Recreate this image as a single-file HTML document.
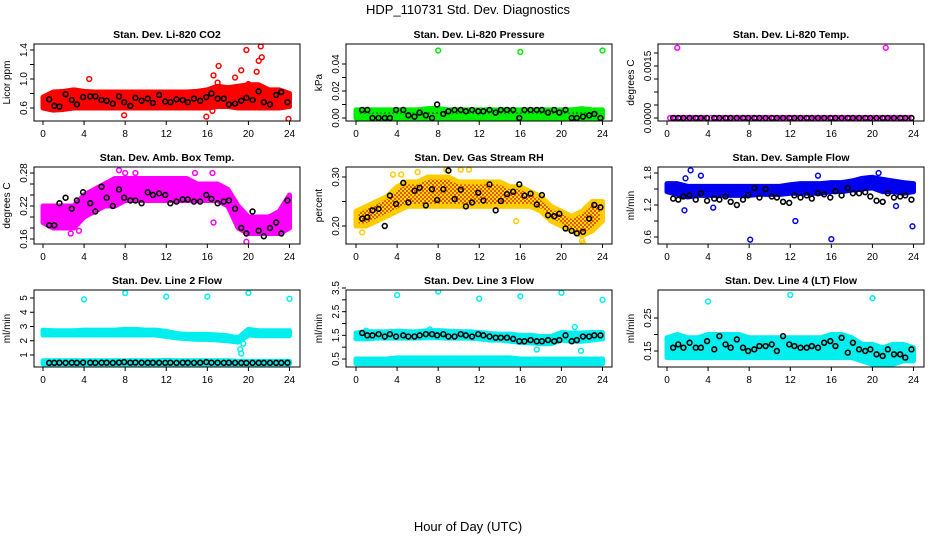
<!DOCTYPE html>
<html><head><meta charset="utf-8">
<style>
body{margin:0;background:#fff;}
svg{display:block;font-family:"Liberation Sans",sans-serif;}
</style></head>
<body>
<svg id="chart" width="936" height="540" viewBox="0 0 936 540">
<defs>
<pattern id="rhpat" width="4" height="4" patternUnits="userSpaceOnUse"><rect width="4" height="4" fill="#ffdd00"/><rect width="2" height="2" fill="#ee5500"/><rect x="2" y="2" width="2" height="2" fill="#ee5500"/></pattern>
<pattern id="prespat" width="4" height="4" patternUnits="userSpaceOnUse"><rect width="4" height="4" fill="#00ee00"/><rect width="2" height="2" fill="#119911"/></pattern>
</defs>
<text x="468" y="14" font-size="13" text-anchor="middle">HDP_110731  Std. Dev. Diagnostics</text>
<text x="468" y="531" font-size="13" text-anchor="middle">Hour of Day (UTC)</text>
</svg>
<script>
const bandHours=[0,1,2,3,4,5,6,7,8,9,10,11,12,13,14,15,16,17,18,19,20,21,22,23,24];
const blackHours=[0.6,1.1,1.6,2.2,2.8,3.3,3.9,4.6,5.1,5.7,6.2,6.8,7.4,7.9,8.5,9.0,9.6,10.2,10.7,11.3,11.9,12.4,13.0,13.6,14.1,14.7,15.3,15.9,16.4,17.0,17.6,18.1,18.7,19.3,19.8,20.4,21.0,21.5,22.1,22.7,23.2,23.8];
const xTicks=[0,4,8,12,16,20,24];

const co2Lo=[0.6,0.57,0.58,0.6,0.6,0.6,0.6,0.6,0.6,0.6,0.6,0.6,0.6,0.6,0.6,0.6,0.6,0.62,0.62,0.6,0.6,0.6,0.6,0.6,0.62];
const co2Hi=[0.75,0.82,0.83,0.85,0.83,0.82,0.82,0.82,0.82,0.82,0.82,0.82,0.82,0.82,0.82,0.83,0.85,0.9,0.88,0.9,0.92,0.92,0.85,0.85,0.8];
const co2Black=[0.72,0.63,0.62,0.79,0.71,0.65,0.75,0.76,0.76,0.71,0.70,0.66,0.76,0.68,0.63,0.74,0.70,0.73,0.67,0.78,0.69,0.68,0.72,0.71,0.68,0.73,0.70,0.75,0.80,0.73,0.73,0.65,0.66,0.70,0.74,0.71,0.83,0.68,0.65,0.78,0.82,0.68];
const co2OutT=[4.5,7.9,15.9,16.6,17.1,18.7,19.3,19.8,20.8,21.0,21.2,21.3,23.9,16.5,17.0,20.0];
const co2OutV=[1.0,0.5,0.48,1.05,1.18,1.02,1.12,1.4,1.1,1.25,1.45,1.3,0.45,0.56,0.95,0.93];

const presLo=[0,0,0,0,0,0,0,0,0,0,0,0,0,0,0,0,0,0,0,0,0,0,0,0,0];
const presHi=[0.006,0.006,0.006,0.006,0.006,0.006,0.006,0.007,0.007,0.006,0.006,0.006,0.006,0.006,0.006,0.006,0.006,0.006,0.006,0.006,0.006,0.006,0.007,0.006,0.006];
const presBlack=[0.006,0.006,0,0,0,0,0.006,0.006,0.002,0.001,0.004,0.002,0,0.01,0.003,0.005,0.006,0.006,0.005,0.006,0.005,0.005,0.006,0.004,0.006,0.006,0.006,0,0.006,0.006,0.006,0.006,0.004,0.006,0.004,0.006,0,0,0.001,0.002,0.003,0];
const presOutT=[8,16,24];
const presOutV=[0.05,0.049,0.05];

const tempBlack=[0,0,0,0,0,0,0,0,0,0,0,0,0,0,0,0,0,0,0,0,0,0,0,0,0,0,0,0,0,0,0,0,0,0,0,0,0,0,0,0,0,0];
const tempOutT=[1,21.3];
const tempOutV=[0.0027,0.0027];

const boxLo=[0.19,0.18,0.18,0.18,0.2,0.21,0.22,0.22,0.23,0.23,0.23,0.23,0.23,0.23,0.23,0.23,0.23,0.23,0.22,0.18,0.17,0.17,0.17,0.17,0.18];
const boxHi=[0.22,0.22,0.22,0.22,0.24,0.25,0.26,0.27,0.27,0.27,0.27,0.27,0.27,0.27,0.27,0.26,0.26,0.26,0.25,0.22,0.2,0.2,0.2,0.21,0.24];
const boxBlack=[0.185,0.185,0.225,0.235,0.215,0.23,0.245,0.225,0.21,0.255,0.235,0.22,0.25,0.235,0.23,0.23,0.225,0.245,0.24,0.243,0.24,0.225,0.228,0.232,0.232,0.228,0.228,0.24,0.233,0.225,0.228,0.23,0.215,0.18,0.17,0.21,0.175,0.165,0.18,0.19,0.17,0.23];
const boxOutT=[2.7,8,9,14.8,16.5,16.6,19.8,7.4,3.5];
const boxOutV=[0.17,0.28,0.28,0.28,0.28,0.19,0.155,0.285,0.175];

const rhLo=[0.2,0.2,0.21,0.22,0.23,0.24,0.24,0.24,0.24,0.24,0.24,0.24,0.24,0.24,0.24,0.24,0.24,0.24,0.23,0.21,0.2,0.19,0.18,0.19,0.21];
const rhHi=[0.23,0.24,0.25,0.26,0.28,0.29,0.29,0.3,0.3,0.3,0.29,0.29,0.29,0.29,0.29,0.28,0.28,0.27,0.26,0.24,0.23,0.22,0.23,0.25,0.25];
const rhBlack=[0.215,0.218,0.232,0.235,0.20,0.262,0.245,0.288,0.248,0.272,0.278,0.242,0.275,0.253,0.275,0.313,0.255,0.274,0.24,0.248,0.268,0.252,0.285,0.232,0.251,0.265,0.27,0.285,0.262,0.266,0.244,0.263,0.222,0.22,0.225,0.195,0.19,0.185,0.188,0.215,0.243,0.238];
const rhOutT=[0.6,3.6,4.4,6,8.8,10.2,11,15.6,22,22.1];
const rhOutV=[0.187,0.305,0.305,0.31,0.315,0.315,0.315,0.21,0.17,0.165];

const sfLo=[1.45,1.4,1.35,1.38,1.38,1.38,1.38,1.38,1.38,1.4,1.4,1.4,1.42,1.42,1.42,1.42,1.45,1.45,1.48,1.5,1.52,1.45,1.45,1.42,1.45];
const sfHi=[1.6,1.6,1.55,1.55,1.55,1.55,1.55,1.55,1.55,1.55,1.55,1.55,1.58,1.6,1.6,1.6,1.62,1.62,1.65,1.7,1.72,1.68,1.65,1.62,1.6];
const sfBlack=[1.32,1.3,1.36,1.38,1.3,1.42,1.28,1.32,1.3,1.36,1.26,1.2,1.3,1.38,1.52,1.34,1.5,1.36,1.34,1.26,1.24,1.38,1.34,1.38,1.32,1.42,1.4,1.34,1.46,1.38,1.52,1.42,1.42,1.44,1.36,1.28,1.26,1.42,1.34,1.36,1.38,1.3];
const sfOutT=[1.7,2.3,4.5,8.1,12.5,16,23.9,22.3,1.8,3.3,14.7,20.6];
const sfOutV=[1.1,1.85,1.15,0.55,0.9,0.56,0.8,1.18,1.7,1.75,1.75,1.8];

const l2LoA=[2.4,2.4,2.4,2.4,2.4,2.4,2.4,2.4,2.4,2.4,2.4,2.4,2.3,2.2,2.15,2.1,2.1,2.05,2.0,1.9,2.4,2.35,2.35,2.35,2.35];
const l2HiA=[2.75,2.7,2.7,2.7,2.75,2.75,2.75,2.75,2.8,2.8,2.75,2.75,2.65,2.5,2.45,2.45,2.45,2.4,2.35,2.2,2.8,2.7,2.7,2.7,2.7];
const l2LoB=[0.38,0.38,0.38,0.38,0.38,0.38,0.38,0.38,0.38,0.38,0.38,0.38,0.38,0.38,0.38,0.38,0.38,0.38,0.38,0.38,0.38,0.38,0.38,0.38,0.38];
const l2HiB=[0.6,0.6,0.6,0.6,0.6,0.6,0.6,0.6,0.6,0.6,0.6,0.6,0.62,0.6,0.6,0.6,0.6,0.6,0.6,0.55,0.55,0.55,0.55,0.55,0.55];
const l2Black=[0.45,0.45,0.46,0.45,0.46,0.45,0.47,0.46,0.45,0.46,0.46,0.45,0.47,0.5,0.46,0.47,0.46,0.46,0.46,0.46,0.45,0.46,0.45,0.46,0.46,0.45,0.46,0.5,0.46,0.46,0.45,0.46,0.45,0.45,0.44,0.45,0.45,0.45,0.45,0.45,0.45,0.46];
const l2OutT=[4,8,12,16,20,24,19.3,19.2,19.5];
const l2OutV=[4.9,5.35,5.1,5.1,5.35,4.95,1.1,1.4,1.8];

const l3LoA=[1.35,1.35,1.38,1.38,1.38,1.38,1.38,1.4,1.4,1.38,1.38,1.38,1.35,1.3,1.3,1.25,1.2,1.18,1.15,1.15,1.3,1.25,1.25,1.3,1.35];
const l3HiA=[1.6,1.65,1.65,1.65,1.68,1.65,1.65,1.7,1.7,1.68,1.65,1.65,1.62,1.58,1.55,1.55,1.5,1.5,1.45,1.45,1.62,1.6,1.6,1.62,1.62];
const l3LoB=[0.3,0.3,0.3,0.3,0.3,0.3,0.3,0.3,0.3,0.3,0.3,0.3,0.3,0.3,0.3,0.3,0.3,0.3,0.3,0.3,0.3,0.3,0.3,0.3,0.3];
const l3HiB=[0.5,0.5,0.5,0.5,0.55,0.55,0.55,0.55,0.55,0.55,0.55,0.55,0.55,0.55,0.55,0.55,0.5,0.5,0.5,0.5,0.5,0.5,0.5,0.5,0.5];
const l3Black=[1.6,1.5,1.5,1.55,1.45,1.55,1.45,1.5,1.45,1.45,1.5,1.55,1.55,1.5,1.55,1.45,1.45,1.55,1.5,1.45,1.55,1.5,1.45,1.4,1.4,1.4,1.35,1.25,1.25,1.3,1.25,1.25,1.3,1.25,1.3,1.5,1.25,1.3,1.45,1.45,1.5,1.5];
const l3OutT=[4,8,12,16,20,24,17.6,21.9,21.3,1,7.2];
const l3OutV=[3.2,3.35,3.05,3.15,3.3,3.0,0.9,0.85,1.85,1.7,1.75];

const l4Lo=[0.13,0.13,0.13,0.13,0.13,0.13,0.13,0.13,0.13,0.13,0.13,0.13,0.13,0.13,0.13,0.13,0.13,0.13,0.13,0.12,0.11,0.11,0.11,0.12,0.12];
const l4Hi=[0.19,0.2,0.19,0.19,0.2,0.2,0.2,0.2,0.19,0.19,0.19,0.19,0.19,0.19,0.19,0.19,0.2,0.2,0.19,0.17,0.17,0.16,0.17,0.17,0.16];
const l4Black=[0.16,0.17,0.16,0.175,0.16,0.16,0.18,0.155,0.195,0.17,0.16,0.185,0.16,0.15,0.155,0.165,0.165,0.17,0.15,0.195,0.17,0.165,0.16,0.16,0.165,0.16,0.175,0.18,0.165,0.19,0.145,0.175,0.155,0.15,0.155,0.14,0.135,0.155,0.14,0.14,0.13,0.155];
const l4OutT=[4,12,20];
const l4OutV=[0.3,0.32,0.31];

const S='http://www.w3.org/2000/svg';
const svg=document.getElementById('chart');
const colLeft=[34,346,658], colX0=[43,356,667];
function mk(tag,attrs,parent){const e=document.createElementNS(S,tag);for(const k in attrs)e.setAttribute(k,attrs[k]);(parent||svg).appendChild(e);return e;}

function panel(o){
  const g=mk('g',{});
  
  
  const L=colLeft[o.c], R=L+266, T=44+123*o.r, B=T+77;
  const xs=t=>colX0[o.c]+t*(246.5/24);
  const ys=v=>o.y0px+(v-o.y0)*(o.y1px-o.y0px)/(o.y1-o.y0);
  const clip='clip'+o.name;
  const cp=mk('clipPath',{id:clip},g); mk('rect',{x:L,y:T,width:R-L,height:B-T},cp);
  const pg=mk('g',{'clip-path':'url(#'+clip+')'},g);
  o.bands.forEach(([lo,hi])=>{
    let pts=bandHours.map((h,i)=>xs(h)+','+ys(hi[i]));
    pts=pts.concat(bandHours.slice().reverse().map((h,j)=>{const i=bandHours.length-1-j;return xs(h)+','+ys(lo[i]);}));
    const p=mk('polygon',{points:pts.join(' '),fill:o.fill||o.color,stroke:o.color,'stroke-width':5,'stroke-linejoin':'round'},pg);
    
    
  });
  o.outT.forEach((t,i)=>{
    const c=mk('circle',{cx:xs(t),cy:ys(o.outV[i]),r:2.4,fill:'none',stroke:o.color,'stroke-width':1.5},pg);
    
    
  });
  if(o.tempRow){blackHours.forEach(t=>{mk('circle',{cx:xs(t)-3,cy:ys(0),r:2.4,fill:'none',stroke:o.color,'stroke-width':1.5},pg);});}
  blackHours.forEach((t,i)=>{
    const c=mk('circle',{cx:xs(t),cy:ys(o.black[i]),r:2.4,fill:'none',stroke:'#000','stroke-width':1.6},pg);
    
    
  });
  mk('rect',{x:L,y:T,width:R-L,height:B-T,fill:'none',stroke:'#000','stroke-width':1},g);
  xTicks.forEach(t=>{
    mk('line',{x1:xs(t),x2:xs(t),y1:B,y2:B+4,stroke:'#000'},g);
    const tx=mk('text',{x:xs(t),y:B+16,'font-size':10,'text-anchor':'middle'},g);tx.textContent=t;
  });
  o.yTicks.forEach((v,i)=>{
    const y=ys(v);
    mk('line',{x1:L-4,x2:L,y1:y,y2:y,stroke:'#000'},g);
    if(o.yLabels[i]){const tx=mk('text',{x:L-7,y:y,'font-size':10,'text-anchor':'middle',transform:'rotate(-90 '+(L-7)+' '+y+')'},g);tx.textContent=o.yLabels[i];}
  });
  const tt=mk('text',{x:(L+R)/2,y:T-6,'font-size':10.5,'font-weight':'bold','text-anchor':'middle'},g);tt.textContent=o.title;
  
  const yl=mk('text',{x:L-24,y:(T+B)/2,'font-size':10,'text-anchor':'middle',transform:'rotate(-90 '+(L-24)+' '+(T+B)/2+')'},g);yl.textContent=o.ylab;
  
}

panel({name:'panel-co2',c:0,r:0,title:'Stan. Dev. Li-820 CO2',ylab:'Licor ppm',color:'#ff0000',y0:0.6,y1:1.4,y0px:108,y1px:50,yTicks:[0.6,0.8,1.0,1.2,1.4],yLabels:['0.6','','1.0','','1.4'],bands:[[co2Lo,co2Hi]],black:co2Black,outT:co2OutT,outV:co2OutV});
panel({name:'panel-pressure',c:1,r:0,title:'Stan. Dev. Li-820 Pressure',ylab:'kPa',color:'#00ee00',fill:'url(#prespat)',y0:0,y1:0.04,y0px:118,y1px:64,yTicks:[0,0.01,0.02,0.03,0.04],yLabels:['0.00','','0.02','','0.04'],bands:[[presLo,presHi]],black:presBlack,outT:presOutT,outV:presOutV});
panel({name:'panel-temp',c:2,r:0,title:'Stan. Dev. Li-820 Temp.',ylab:'degrees C',color:'#ff00ff',y0:0,y1:0.0025,y0px:118,y1px:53,yTicks:[0,0.0005,0.001,0.0015,0.002,0.0025],yLabels:['0.0000','','','','0.0015',''],bands:[],tempRow:true,black:tempBlack,outT:tempOutT,outV:tempOutV});
panel({name:'panel-box-temp',c:0,r:1,title:'Stan. Dev. Amb. Box Temp.',ylab:'degrees C',color:'#ff00ff',y0:0.16,y1:0.28,y0px:239,y1px:173,yTicks:[0.16,0.18,0.2,0.22,0.24,0.26,0.28],yLabels:['0.16','','','0.22','','','0.28'],bands:[[boxLo,boxHi]],black:boxBlack,outT:boxOutT,outV:boxOutV});
panel({name:'panel-gas-rh',c:1,r:1,title:'Stan. Dev. Gas Stream RH',ylab:'percent',color:'#ffcc00',fill:'url(#rhpat)',y0:0.2,y1:0.3,y0px:226,y1px:177,yTicks:[0.2,0.25,0.3],yLabels:['0.20','','0.30'],bands:[[rhLo,rhHi]],black:rhBlack,outT:rhOutT,outV:rhOutV});
panel({name:'panel-sample-flow',c:2,r:1,title:'Stan. Dev. Sample Flow',ylab:'ml/min',color:'#0000ee',y0:0.6,y1:1.8,y0px:237,y1px:173,yTicks:[0.6,0.9,1.2,1.5,1.8],yLabels:['0.6','','1.2','','1.8'],bands:[[sfLo,sfHi]],black:sfBlack,outT:sfOutT,outV:sfOutV});
panel({name:'panel-line2',c:0,r:2,title:'Stan. Dev. Line 2 Flow',ylab:'ml/min',color:'#00eeee',y0:1,y1:5,y0px:355,y1px:298,yTicks:[1,2,3,4,5],yLabels:['1','2','3','4','5'],bands:[[l2LoA,l2HiA],[l2LoB,l2HiB]],black:l2Black,outT:l2OutT,outV:l2OutV});
panel({name:'panel-line3',c:1,r:2,title:'Stan. Dev. Line 3 Flow',ylab:'ml/min',color:'#00eeee',y0:0.5,y1:3.5,y0px:359,y1px:288,yTicks:[0.5,1,1.5,2,2.5,3,3.5],yLabels:['0.5','','1.5','','2.5','','3.5'],bands:[[l3LoA,l3HiA],[l3LoB,l3HiB]],black:l3Black,outT:l3OutT,outV:l3OutV});
panel({name:'panel-line4',c:2,r:2,title:'Stan. Dev. Line 4 (LT) Flow',ylab:'ml/min',color:'#00eeee',y0:0.15,y1:0.25,y0px:351,y1px:318,yTicks:[0.15,0.2,0.25],yLabels:['0.15','','0.25'],bands:[[l4Lo,l4Hi]],black:l4Black,outT:l4OutT,outV:l4OutV});
</script>
</body></html>
